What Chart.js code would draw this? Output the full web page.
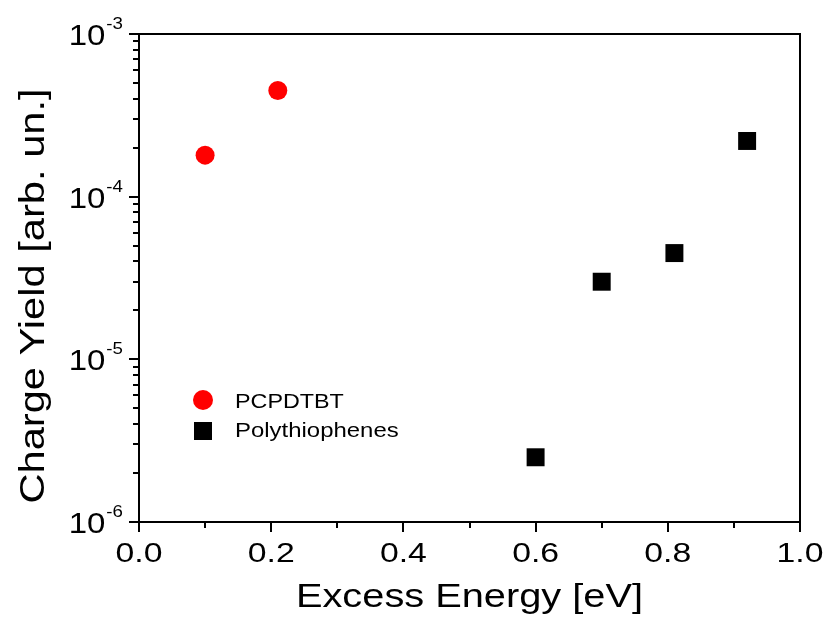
<!DOCTYPE html>
<html><head><meta charset="utf-8">
<script src="https://cdn.jsdelivr.net/npm/chart.js@4/dist/chart.umd.min.js"></script>
<style>html,body{margin:0;padding:0;background:#fff}#wrap{width:824px;height:619px}</style>
</head><body><div id="wrap"><canvas id="c" width="824" height="619"></canvas></div>
<script>
const seriesNames = ['PCPDTBT', 'Polythiophenes'];
const pcpdtbtEnergy = [0.10, 0.21];
const pcpdtbtYield = [1.8e-4, 4.5e-4];
const polyEnergy = [0.60, 0.70, 0.81, 0.92];
const polyYield = [2.5e-6, 3.0e-5, 4.5e-5, 2.2e-4];
const xTickValues = [0.0, 0.2, 0.4, 0.6, 0.8, 1.0];
const yDecades = [-6, -5, -4, -3];
const xTitle = 'Excess Energy [eV]';
const yTitle = 'Charge Yield [arb. un.]';

const FONT = "'Liberation Sans', Arial, sans-serif";

function stretchedText(ctx, text, x, y, sx, align) {
  ctx.save();
  ctx.translate(x, y);
  ctx.scale(sx, 1);
  ctx.textAlign = align;
  ctx.fillText(text, 0, 0);
  ctx.restore();
}

const frame = {
  id: 'frame',
  afterDraw(chart) {
    const ctx = chart.ctx, a = chart.chartArea;
    const xs = chart.scales.x, ys = chart.scales.y;
    ctx.save();
    ctx.strokeStyle = '#000';
    ctx.fillStyle = '#000';
    ctx.lineWidth = 2;
    ctx.strokeRect(a.left, a.top, a.right - a.left, a.bottom - a.top);
    // x ticks
    for (let i = 0; i <= 10; i++) {
      const v = i / 10;
      const px = Math.round(xs.getPixelForValue(v));
      const len = (i % 2 === 0) ? 10 : 6;
      ctx.beginPath(); ctx.moveTo(px, a.bottom); ctx.lineTo(px, a.bottom + len); ctx.stroke();
    }
    ctx.textBaseline = 'alphabetic';
    ctx.font = '27px ' + FONT;
    xTickValues.forEach(v => {
      stretchedText(ctx, v.toFixed(1), xs.getPixelForValue(v), 562, 1.25, 'center');
    });
    // y ticks
    const SX = 1.1;
    yDecades.forEach((d, idx) => {
      const py = Math.round(ys.getPixelForValue(Math.pow(10, d)));
      ctx.beginPath(); ctx.moveTo(a.left, py); ctx.lineTo(a.left - 10, py); ctx.stroke();
      if (idx < yDecades.length - 1) {
        for (let m = 2; m <= 9; m++) {
          const my = Math.round(ys.getPixelForValue(m * Math.pow(10, d)));
          ctx.beginPath(); ctx.moveTo(a.left, my); ctx.lineTo(a.left - 6, my); ctx.stroke();
        }
      }
      ctx.font = '17px ' + FONT;
      const exp = '-' + Math.abs(d);
      const right = 123;
      stretchedText(ctx, exp, right, py - 5, SX, 'right');
      const ew = ctx.measureText(exp).width * SX;
      ctx.font = '30px ' + FONT;
      stretchedText(ctx, '10', right - ew - 1, py + 11, SX, 'right');
    });
    // axis titles
    ctx.font = '34px ' + FONT;
    stretchedText(ctx, xTitle, (a.left + a.right) / 2, 607, 1.17, 'center');
    ctx.save();
    ctx.translate(44, 296);
    ctx.rotate(-Math.PI / 2);
    ctx.font = '35px ' + FONT;
    stretchedText(ctx, yTitle, 0, 0, 1.19, 'center');
    ctx.restore();
    // legend
    ctx.fillStyle = '#ff0000';
    ctx.beginPath(); ctx.arc(203, 400, 10, 0, Math.PI * 2); ctx.fill();
    ctx.fillStyle = '#000';
    ctx.fillRect(194, 422, 18, 18);
    ctx.font = '21px ' + FONT;
    stretchedText(ctx, seriesNames[0], 235, 408, 1.11, 'left');
    stretchedText(ctx, seriesNames[1], 235, 437, 1.14, 'left');
    ctx.restore();
  }
};

new Chart(document.getElementById('c'), {
  type: 'scatter',
  data: {
    datasets: [
      {
        label: seriesNames[0],
        data: pcpdtbtEnergy.map((x, i) => ({ x, y: pcpdtbtYield[i] })),
        pointStyle: 'circle', pointRadius: 9.5, pointHoverRadius: 9.5,
        backgroundColor: '#ff0000', borderColor: '#ff0000', borderWidth: 0
      },
      {
        label: seriesNames[1],
        data: polyEnergy.map((x, i) => ({ x, y: polyYield[i] })),
        pointStyle: 'rect', pointRadius: 12.7, pointHoverRadius: 12.7,
        backgroundColor: '#000', borderColor: '#000', borderWidth: 0
      }
    ]
  },
  options: {
    responsive: false,
    animation: false,
    events: [],
    layout: { padding: { top: 34, right: 24, left: 0, bottom: 0 } },
    plugins: { legend: { display: false }, tooltip: { enabled: false } },
    scales: {
      x: {
        type: 'linear', min: 0, max: 1,
        ticks: { display: false },
        grid: { display: false, drawTicks: false },
        border: { display: false },
        afterFit: s => { s.height = 97; s.paddingLeft = 0; s.paddingRight = 0; }
      },
      y: {
        type: 'logarithmic', min: 1e-6, max: 1e-3,
        ticks: { display: false },
        grid: { display: false, drawTicks: false },
        border: { display: false },
        afterFit: s => { s.width = 139; s.paddingTop = 0; s.paddingBottom = 0; }
      }
    }
  },
  plugins: [frame]
});
</script>
</body></html>
